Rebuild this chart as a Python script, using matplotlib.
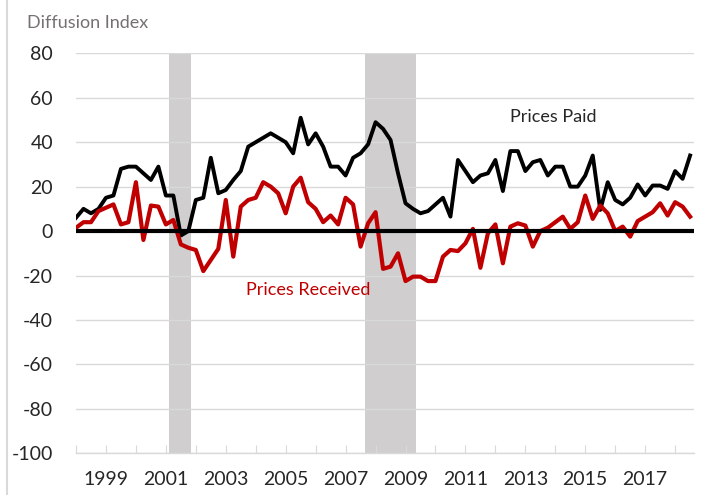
import numpy as np
import matplotlib.pyplot as plt
from matplotlib.lines import Line2D

plt.rcParams['font.family'] = ['Lato', 'DejaVu Sans']
plt.rcParams['axes.unicode_minus'] = False

# quarterly data, 1998Q1 .. 2018Q3
start_year = 1998
prices_paid = [
    6, 10, 8, 10, 15, 16, 28, 29, 29, 26, 23, 29, 16, 16, -2, 0,
    14, 15, 33, 17, 18.5, 23, 27, 38, 40, 42, 44, 42, 40, 35, 51, 39,
    44, 38, 29, 29, 25, 33, 35, 39, 49, 46, 41, 26, 12.5, 10, 8, 9,
    12, 15, 6.5, 32, 27, 22, 25, 26, 32, 18, 36, 36, 27, 31, 32, 25,
    29, 29, 20, 20, 25, 34, 9.5, 22, 14, 12, 15, 21, 16, 20.5, 20.5, 19,
    27, 23.5, 34,
]
prices_received = [
    1.5, 4, 4, 9, 10.5, 12, 3, 4, 22, -4, 11.5, 11, 3, 5, -6, -7.5,
    -8.5, -18, -13, -8, 14, -11.5, 11, 14, 15, 22, 20, 17, 8, 20, 24, 13,
    10, 4, 7, 3, 15, 12, -7, 3.5, 8.5, -17, -16, -10, -22.5, -20.5, -20.5, -22.5,
    -22.5, -11.5, -8.5, -9, -5.5, 1, -16.5, -1, 3, -14.5, 2, 3.5, 2.5, -7, 0, 1.5,
    4, 6.5, 1, 4, 16, 5.5, 11.5, 8, 0, 2, -2.5, 4.5, 6.5, 8.5, 12.5, 7,
    13, 11, 6.5,
]
recessions = [(2001.11, 2001.83), (2007.645, 2009.35)]
year_ticks = list(range(1998, 2019))
year_labels = [str(y) if y % 2 == 1 else '' for y in year_ticks]
y_ticks = list(range(-100, 81, 20))

x = start_year + np.arange(len(prices_paid)) / 4.0

fig = plt.figure(figsize=(7.11, 4.95), dpi=100)
ax = fig.add_axes([76 / 711, 41.7 / 495, 618 / 711, 400 / 495])

for a, b in recessions:
    ax.axvspan(a, b, color='#d0cecf', lw=0, zorder=0)

ax.plot(x, prices_paid, color='black', lw=2.8, zorder=3)
ax.plot(x, prices_received, color='#c00000', lw=3.0, zorder=3)
ax.axhline(0, color='black', lw=3, zorder=4)

ax.set_xlim(1998, 2018.63)
ax.set_ylim(-100, 80)
ax.set_yticks(y_ticks)
ax.set_xticks(year_ticks)
ax.set_xticklabels(year_labels)
ax.grid(axis='y', color='#d9d9d9', lw=1)
ax.set_axisbelow(True)
for s in ['left', 'right', 'top']:
    ax.spines[s].set_visible(False)
ax.spines['bottom'].set_color('#d9d9d9')
ax.spines['bottom'].set_linewidth(1)
ax.tick_params(axis='x', direction='in', length=6, color='#d9d9d9',
               labelsize=14, labelcolor='#262626', pad=13)
ax.tick_params(axis='y', length=0, labelsize=14, labelcolor='#262626', pad=16.5)

ax.text(0.773, 0.84, 'Prices Paid', transform=ax.transAxes, fontsize=13,
        color='#262626', ha='center', va='center')
ax.text(0.375, 0.4075, 'Prices Received', transform=ax.transAxes, fontsize=13,
        color='#c00000', ha='center', va='center')

fig.text(27 / 711, 1 - 23 / 495, 'Diffusion Index', fontsize=13,
         color='#767171', ha='left', va='center')
fig.add_artist(Line2D([7 / 711, 7 / 711], [0, 1], color='#d9d9d9', lw=1.5))

fig.savefig('out.png', dpi=100)
